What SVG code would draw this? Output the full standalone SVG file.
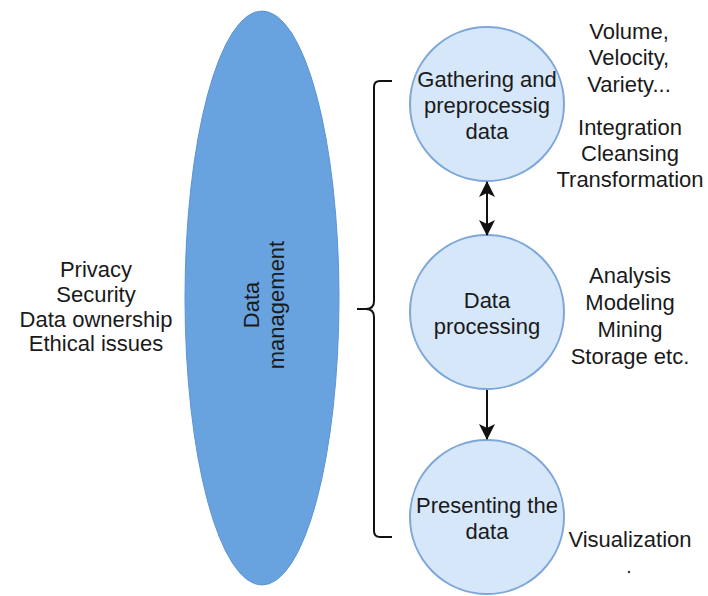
<svg xmlns="http://www.w3.org/2000/svg" width="708" height="596" viewBox="0 0 708 596">
  <style>
    .lbl { font-family: "Liberation Sans", Arial, sans-serif; font-size: 22px; fill: #1a1a1a; text-anchor: middle; }
    .stage { fill: #d6e7fa; stroke: #7ea6d8; stroke-width: 2; }
    .conn { stroke: #111; stroke-width: 2; fill: none; }
  </style>
  <defs>
    <marker id="arrowEnd" viewBox="0 0 16 16" refX="15" refY="8" markerWidth="16" markerHeight="16" markerUnits="userSpaceOnUse" orient="auto">
      <path d="M0,0 L16,8 L0,16 L4,8 Z" fill="#111"/>
    </marker>
    <marker id="arrowStart" viewBox="0 0 16 16" refX="1" refY="8" markerWidth="16" markerHeight="16" markerUnits="userSpaceOnUse" orient="auto">
      <path d="M16,0 L0,8 L16,16 L12,8 Z" fill="#111"/>
    </marker>
  </defs>

  <rect width="708" height="596" fill="#ffffff"/>

  <!-- concerns on the left -->
  <g id="concerns">
    <text class="lbl" x="96" y="277">Privacy</text>
    <text class="lbl" x="96" y="302">Security</text>
    <text class="lbl" x="96" y="327">Data ownership</text>
    <text class="lbl" x="96" y="351">Ethical issues</text>
  </g>

  <!-- data management ellipse -->
  <g id="data-management">
    <ellipse cx="262" cy="298" rx="77" ry="287" fill="#68a3e0" stroke="#5b95d4" stroke-width="1"/>
    <g transform="translate(259,305) rotate(-90)">
      <text class="lbl" x="0" y="0">Data</text>
      <text class="lbl" x="0" y="25">management</text>
    </g>
  </g>

  <!-- curly brace -->
  <g id="brace">
    <path class="conn" d="M392,81 L380,81 Q374,81 374,87 L374,301 Q374,309 366,309 L357,309 M366,309 Q374,309 374,317 L374,531 Q374,537 380,537 L392,537"/>
  </g>

  <!-- stages -->
  <g id="gathering">
    <circle class="stage" cx="487" cy="104" r="77"/>
    <text class="lbl" x="487" y="87">Gathering and</text>
    <text class="lbl" x="487" y="113">preprocessig</text>
    <text class="lbl" x="487" y="139">data</text>
  </g>

  <g id="processing">
    <circle class="stage" cx="487" cy="312" r="77"/>
    <text class="lbl" x="487" y="308">Data</text>
    <text class="lbl" x="487" y="334">processing</text>
  </g>

  <g id="presenting">
    <circle class="stage" cx="487" cy="517" r="77"/>
    <text class="lbl" x="487" y="513">Presenting the</text>
    <text class="lbl" x="487" y="539">data</text>
  </g>

  <!-- connectors -->
  <g id="connectors">
    <line class="conn" x1="487" y1="182" x2="487" y2="235" marker-start="url(#arrowStart)" marker-end="url(#arrowEnd)"/>
    <line class="conn" x1="487" y1="390" x2="487" y2="439" marker-end="url(#arrowEnd)"/>
  </g>

  <!-- annotations on the right -->
  <g id="gathering-notes">
    <text class="lbl" x="629" y="39">Volume,</text>
    <text class="lbl" x="629" y="65">Velocity,</text>
    <text class="lbl" x="629" y="92">Variety...</text>
    <text class="lbl" x="630" y="135">Integration</text>
    <text class="lbl" x="630" y="161">Cleansing</text>
    <text class="lbl" x="630" y="187">Transformation</text>
  </g>

  <g id="processing-notes">
    <text class="lbl" x="630" y="283">Analysis</text>
    <text class="lbl" x="630" y="310">Modeling</text>
    <text class="lbl" x="630" y="337">Mining</text>
    <text class="lbl" x="630" y="364">Storage etc.</text>
  </g>

  <g id="presenting-notes">
    <text class="lbl" x="630" y="547">Visualization</text>
    <circle cx="629" cy="572" r="1.2" fill="#333"/>
  </g>
</svg>
